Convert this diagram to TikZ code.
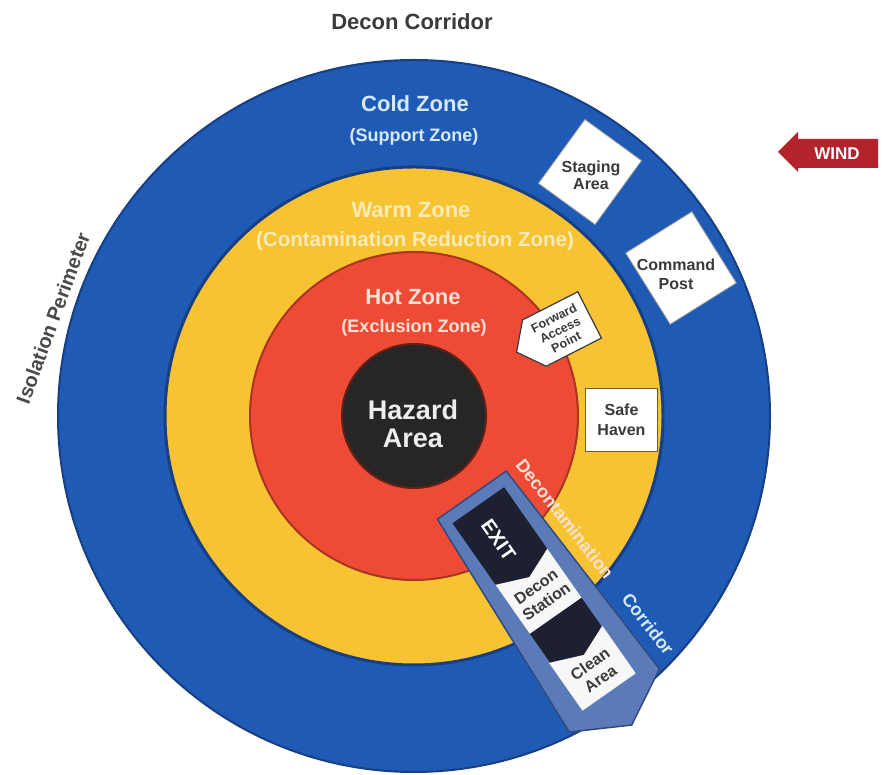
\documentclass[tikz,border=0pt]{standalone}
\usepackage{fontspec}
\setmainfont{Liberation Sans}
\usetikzlibrary{calc}

\definecolor{coldblue}{HTML}{1F5BB5}
\definecolor{coldedge}{HTML}{183E84}
\definecolor{warmyellow}{HTML}{F7C332}
\definecolor{hotred}{HTML}{EE4B36}
\definecolor{hotedge}{HTML}{A9351F}
\definecolor{hazardblack}{HTML}{262626}
\definecolor{corridorsteel}{HTML}{5A7BB8}
\definecolor{corridoredge}{HTML}{33497F}
\definecolor{corridordark}{HTML}{1C2030}
\definecolor{windred}{HTML}{B4222C}
\definecolor{labelgray}{HTML}{3A3A3A}
\definecolor{isogray}{HTML}{4A4A4A}
\definecolor{coldtext}{HTML}{D6EAFF}
\definecolor{warmtext}{HTML}{FCEBB8}
\definecolor{hottext}{HTML}{FCE2D6}
\definecolor{havenedge}{HTML}{6E5B2C}
\definecolor{boxedge}{HTML}{9A9A9A}

\begin{document}
\begin{tikzpicture}[x=1pt,y=1pt,
  zone/.style={circle, inner sep=0pt},
  zonetitle/.style={anchor=base, font=\bfseries\fontsize{22}{24}\selectfont},
  zonesub/.style={anchor=base, font=\bfseries\fontsize{18}{20}\selectfont},
  boxtext/.style={font=\bfseries\fontsize{16}{18}\selectfont, text=labelgray, align=center},
  sitebox/.style={draw=boxedge, line width=0.8pt, fill=white, inner sep=0pt},
  corridorlabel/.style={rotate=-52, font=\bfseries\fontsize{18}{18}\selectfont}
]
\useasboundingbox (0,0) rectangle (888,775);
\fill[white] (0,0) rectangle (888,775);
\coordinate (C) at (414,359);

% concentric zones
\node[zone, fill=coldblue, draw=coldedge, line width=2pt, minimum size=712pt] (cold) at (C) {};
\node[zone, fill=warmyellow, draw=coldedge, line width=3pt, minimum size=498pt] (warm) at (C) {};
\node[zone, fill=hotred, draw=hotedge, line width=2pt, minimum size=328pt] (hot) at (C) {};
\node[zone, fill=hazardblack, draw=hotedge!60!black, line width=2pt, minimum size=144pt] (hazard) at (C) {};

% zone labels
\node[anchor=base, text=labelgray, font=\bfseries\fontsize{22}{24}\selectfont] (title) at (412,745) {Decon Corridor};
\node[zonetitle, text=coldtext] (coldname) at (415,663) {Cold Zone};
\node[zonesub, text=coldtext] (coldsub) at (414,633) {(Support Zone)};
\node[zonetitle, text=warmtext] (warmname) at (411,557) {Warm Zone};
\node[anchor=base, text=warmtext, font=\bfseries\fontsize{20.5}{22}\selectfont] (warmsub) at (415,528) {(Contamination Reduction Zone)};
\node[zonetitle, text=hottext] (hotname) at (413,470) {Hot Zone};
\node[zonesub, text=hottext] (hotsub) at (414,442) {(Exclusion Zone)};
\node[align=center, text=white!93!black, font=\bfseries\fontsize{27}{28}\selectfont] (hazardname) at (413,351) {Hazard\\Area};

\node[rotate=70, text=isogray, font=\bfseries\fontsize{20}{20}\selectfont] (iso) at (53,457) {Isolation Perimeter};

% wind indicator
\fill[windred] (778,623) -- (798,643) -- (798,636) -- (878,636) -- (878,607) -- (798,607) -- (798,603) -- cycle;
\node[text=white, font=\bfseries\fontsize{17}{17}\selectfont] (wind) at (837,621) {WIND};

% cold zone facilities
\node[sitebox, minimum width=70pt, minimum height=79pt, rotate=-36] (staging) at (590,603) {};
\node[boxtext, font=\bfseries\fontsize{16}{17}\selectfont] (stagingtext) at (591,600) {Staging\\Area};
\node[sitebox, minimum width=84pt, minimum height=78pt, rotate=-58] (command) at (681,507) {};
\node[boxtext, font=\bfseries\fontsize{16}{19}\selectfont] (commandtext) at (676,501) {Command\\Post};

% warm zone facilities
\node[sitebox, draw=havenedge, line width=1.8pt, minimum width=72pt, minimum height=63pt, boxtext, font=\bfseries\fontsize{16}{20}\selectfont] (haven) at (621.5,355) {Safe\\Haven};

\begin{scope}[shift={(562,446)}, rotate=207]
  \filldraw[fill=white, draw=labelgray, line width=1.2pt]
    (-31,-26) -- (31,-26) -- (51,0) -- (31,26) -- (-31,26) -- cycle;
\end{scope}
\node[rotate=27, align=center, text=labelgray, font=\bfseries\fontsize{12.5}{13.5}\selectfont] (fap) at (560,445) {Forward\\Access\\Point};

% decontamination corridor strip
\begin{scope}[shift={(C)}, rotate=-55]
  \filldraw[fill=corridorsteel, draw=corridoredge, line width=1.5pt]
    (98,-40) -- (98,44) -- (348,56) -- (378,1) -- (348,-54) -- cycle;
  \fill[white!97!black] (185,-30) rectangle (245,33);
  \fill[white!97!black] (280,-31) rectangle (338,34);
  \fill[corridordark] (110,-30) -- (110,33) -- (185,33) -- (198,2) -- (185,-30) -- cycle;
  \fill[corridordark] (245,-30) -- (245,33) -- (280,33) -- (293,2) -- (280,-30) -- cycle;
  \node[rotate=-55, text=white, font=\bfseries\fontsize{20}{20}\selectfont] (exit) at (150,-2) {EXIT};
  \node[rotate=35, boxtext] (decon) at (219,2) {Decon\\Station};
  \node[rotate=35, boxtext] (clean) at (313,2) {Clean\\Area};
\end{scope}

\node[corridorlabel, text=hottext] (deconword) at (565,256) {Decontamination};
\node[corridorlabel, text=coldtext] (corridorword) at (648,151) {Corridor};
\end{tikzpicture}
\end{document}
